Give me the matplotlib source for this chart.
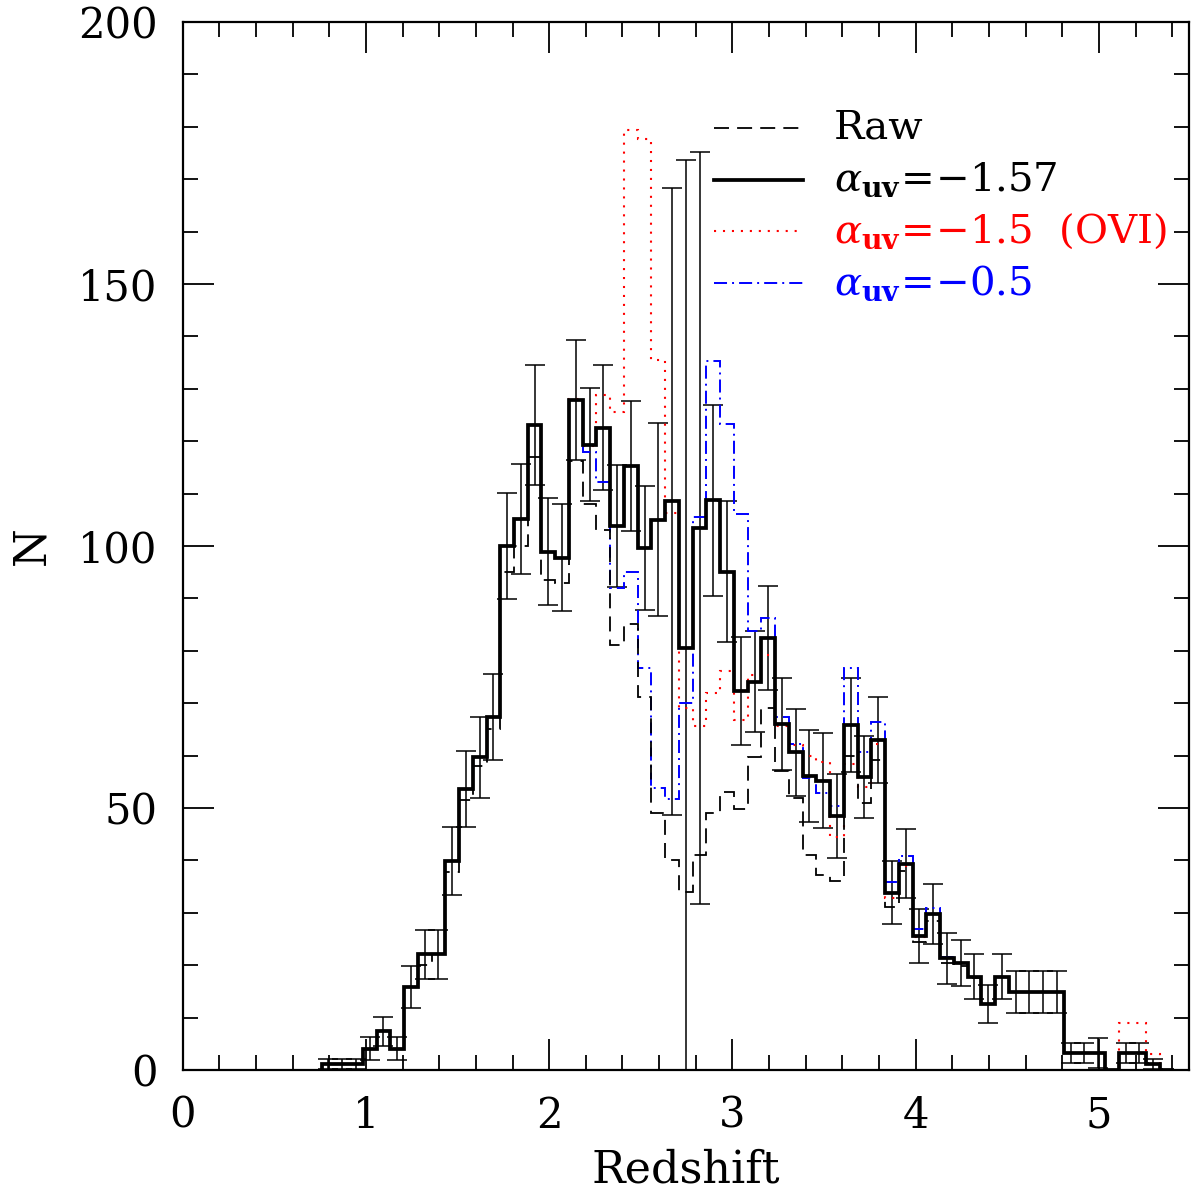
import numpy as np
import matplotlib
matplotlib.use("Agg")
import matplotlib.pyplot as plt
from matplotlib.ticker import MultipleLocator

plt.rcParams["font.family"] = "DejaVu Serif"
plt.rcParams["mathtext.fontset"] = "dejavuserif"

# redshift histogram, bins of dz = 0.075 starting at z = 0.758
bin_width = 0.075
first_edge = 0.758
n_bins = 62
edges = first_edge + bin_width * np.arange(n_bins + 1)

# alpha_uv = -1.57 (corrected counts)
n_157 = [1.1, 1.1, 1.1, 4.1, 7.4, 4.1, 15.9, 22.1, 22.1, 39.9,
         53.6, 59.7, 67.4, 100.0, 105.2, 123.1, 98.9, 97.8, 127.9, 119.3,
         122.6, 103.8, 115.3, 99.6, 105.0, 108.5, 80.6, 103.4, 108.7, 95.1,
         72.3, 74.1, 82.4, 66.1, 60.6, 56.1, 55.2, 48.5, 65.8, 55.9,
         63.0, 33.8, 39.4, 25.6, 29.8, 21.3, 20.4, 17.8, 12.6, 17.8,
         14.8, 14.8, 14.8, 14.8, 3.2, 3.2, 3.2, 0.0, 3.2, 3.2,
         1.1, 0.0]
err_157 = [1.0, 1.0, 1.0, 2.2, 2.8, 2.2, 4.0, 4.7, 4.7, 6.5,
           7.3, 7.7, 8.2, 10.2, 10.5, 11.4, 10.2, 10.2, 11.5, 10.8,
           12.0, 11.6, 12.4, 11.8, 18.4, 59.8, 93.1, 71.7, 18.3, 13.4,
           10.3, 9.6, 9.9, 8.8, 8.3, 8.7, 9.1, 8.0, 9.0, 7.8,
           8.2, 6.0, 6.5, 5.2, 5.7, 4.8, 4.4, 4.3, 3.6, 4.3,
           4.0, 4.0, 4.0, 4.0, 1.9, 1.9, 2.9, 0.0, 1.9, 1.9,
           1.0, 0.0]

# raw counts
n_raw = [1.1, 1.1, 1.1, 4.1, 7.4, 4.1, 15.9, 20.0, 22.1, 37.8,
         51.5, 58.0, 65.0, 95.0, 100.0, 117.0, 93.5, 92.9, 116.2, 108.0,
         103.0, 81.1, 85.1, 71.1, 49.0, 40.0, 33.9, 41.0, 49.0, 53.0,
         49.9, 59.8, 69.0, 57.0, 52.0, 41.0, 37.2, 36.1, 60.0, 51.0,
         59.2, 31.2, 38.0, 24.5, 28.5, 20.5, 19.8, 17.5, 12.6, 17.8,
         14.8, 14.8, 14.8, 14.8, 3.2, 3.2, 3.2, 0.0, 3.2, 3.2,
         1.1, 0.0]

# alpha_uv = -1.5 (OVI)
n_ovi = [1.1, 1.1, 1.1, 4.1, 7.4, 4.1, 15.9, 22.1, 22.1, 39.9,
         53.6, 59.7, 67.4, 100.0, 105.2, 123.1, 98.9, 97.8, 128.0, 119.0,
         128.8, 125.5, 179.4, 177.6, 135.5, 106.3, 69.0, 65.7, 72.0, 76.1,
         66.8, 75.4, 79.2, 65.7, 62.0, 60.0, 58.8, 44.5, 58.4, 54.0,
         62.2, 32.8, 39.0, 25.3, 29.8, 21.3, 20.4, 17.8, 12.6, 17.8,
         14.8, 14.8, 14.8, 14.8, 3.2, 3.2, 3.2, 0.0, 9.0, 9.0,
         3.0, 0.0]

# alpha_uv = -0.5
n_05 = [1.1, 1.1, 1.1, 4.1, 7.4, 4.1, 15.9, 22.1, 22.1, 39.9,
        53.6, 59.7, 67.4, 100.0, 105.2, 123.1, 98.9, 97.8, 127.9, 118.0,
        112.3, 92.0, 95.0, 76.8, 53.8, 51.8, 70.0, 105.5, 135.4, 123.3,
        106.2, 83.7, 86.2, 67.4, 62.2, 55.7, 52.8, 50.4, 76.8, 60.6,
        66.4, 35.8, 40.8, 27.0, 31.0, 21.6, 20.4, 17.8, 12.6, 17.8,
        14.8, 14.8, 14.8, 14.8, 3.2, 3.2, 3.2, 0.0, 3.2, 3.2,
        1.1, 0.0]

legend_labels = ["Raw",
                 r"$\alpha_{\mathbf{uv}}\!=\!{-}1.57$",
                 r"$\alpha_{\mathbf{uv}}\!=\!{-}1.5$  (OVI)",
                 r"$\alpha_{\mathbf{uv}}\!=\!{-}0.5$"]
legend_colors = ["black", "black", "red", "blue"]

DASH = (0, (8.3, 4.5))
DOT = (0, (1, 3.3))
DASHDOT = (0, (6.7, 2.6, 1, 2.6))

fig = plt.figure(figsize=(11.91, 11.94), dpi=100)
ax = fig.add_axes([182.7 / 1191, 124 / 1194, 1006 / 1191, 1048 / 1194])

centers = 0.5 * (edges[:-1] + edges[1:])
n_157 = np.array(n_157)
err_157 = np.array(err_157)
has = n_157 > 0

ax.errorbar(centers[has], n_157[has], yerr=err_157[has], fmt="none",
            ecolor="black", elinewidth=1.1, capsize=7, capthick=1.1, zorder=2)

ax.stairs(n_ovi, edges, color="red", linestyle=DOT, linewidth=1.5, zorder=3)
ax.stairs(n_05, edges, color="blue", linestyle=DASHDOT, linewidth=1.4, zorder=3)
ax.stairs(n_raw, edges, color="black", linestyle=DASH, linewidth=1.3, zorder=3)
ax.stairs(n_157, edges, color="black", linewidth=2.7, zorder=4)

# legend drawn by hand, line samples on the left and coloured text
styles = [dict(ls=DASH, lw=1.3), dict(ls="-", lw=2.7),
          dict(ls=DOT, lw=1.5), dict(ls=DASHDOT, lw=1.4)]
for i, (lab, col) in enumerate(zip(legend_labels, legend_colors)):
    y = 0.899 - i * 0.0494
    ax.plot([0.528, 0.617], [y, y], transform=ax.transAxes, color=col, **styles[i])
    ax.text(0.647, y, lab, transform=ax.transAxes, color=col,
            fontsize=29, va="center", ha="left")

ax.set_xlim(0, 5.49)
ax.set_ylim(0, 200)
ax.xaxis.set_major_locator(MultipleLocator(1))
ax.xaxis.set_minor_locator(MultipleLocator(0.2))
ax.yaxis.set_major_locator(MultipleLocator(50))
ax.yaxis.set_minor_locator(MultipleLocator(10))
ax.tick_params(which="both", direction="in", top=True, right=True,
               width=1.3, labelsize=30, pad=18)
ax.tick_params(which="major", length=22)
ax.tick_params(which="minor", length=11)
for sp in ax.spines.values():
    sp.set_linewidth(1.6)

ax.set_xlabel("Redshift", fontsize=32, labelpad=8)
ax.set_ylabel("N", fontsize=32, labelpad=18)

fig.savefig("out.png", dpi=100)
